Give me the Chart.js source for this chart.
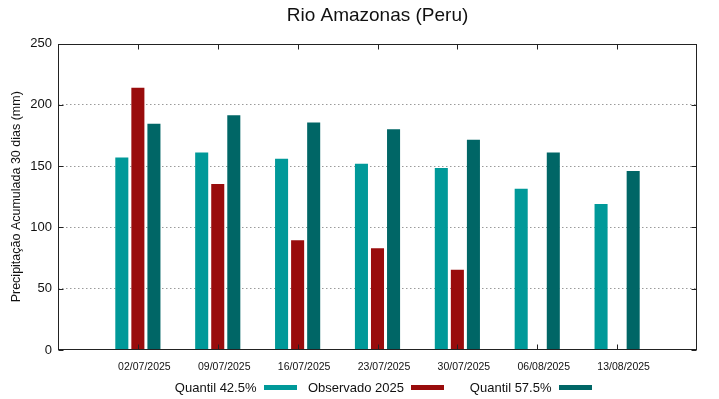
<!DOCTYPE html>
<html>
<head>
<meta charset="utf-8">
<script src="https://cdn.jsdelivr.net/npm/chart.js@4.4.1/dist/chart.umd.min.js"></script>
<style>
  html, body { margin: 0; padding: 0; background: #fff; }
  #wrap { position: relative; width: 719px; height: 399px; }
  #legend { position: absolute; left: 149px; top: 378px; height: 18px; display: flex;
            font-family: "Liberation Sans", Arial, sans-serif; font-size: 13px; color: #111; }
  .item { width: 147.5px; display: flex; justify-content: flex-end; align-items: center; }
  .sw { width: 33px; height: 5px; margin-left: 7px; }
</style>
</head>
<body>
<div id="wrap">
  <canvas id="c" width="719" height="399"></canvas>
  <div id="legend"></div>
</div>
<script>
const categories = ['02/07/2025', '09/07/2025', '16/07/2025', '23/07/2025', '30/07/2025', '06/08/2025', '13/08/2025'];
const quantil425 = [157, 161, 156, 152, 148.5, 131.5, 119];
const observado2025 = [214, 135.5, 89.5, 83, 65.5, null, null];
const quantil575 = [184.5, 191.5, 185.5, 180, 171.5, 161, 146];
const yTicks = [0, 50, 100, 150, 200, 250];

const pad = arr => [null, ...arr, null];
const labels = ['', ...categories, ''];

const frameTicks = {
  id: 'frameTicks',
  afterDatasetsDraw(chart) {
    const ctx = chart.ctx;
    const { left, right, top, bottom } = chart.chartArea;
    const L = Math.round(left) + 0.5, R = Math.round(right) - 0.5;
    const T = Math.round(top) + 0.5, B = Math.round(bottom) - 0.5;
    ctx.save();
    ctx.setLineDash([]);
    ctx.strokeStyle = '#222';
    ctx.lineWidth = 1;
    ctx.beginPath();
    chart.scales.y.ticks.forEach(t => {
      const py = Math.round(chart.scales.y.getPixelForValue(t.value)) + 0.5;
      ctx.moveTo(L, py); ctx.lineTo(L + 5, py);
      ctx.moveTo(R, py); ctx.lineTo(R - 5, py);
    });
    categories.forEach((c, i) => {
      const px = Math.round(chart.scales.x.getPixelForValue(i + 1)) + 0.5;
      ctx.moveTo(px, B); ctx.lineTo(px, B - 5);
      ctx.moveTo(px, T); ctx.lineTo(px, T + 5);
    });
    ctx.stroke();
    ctx.strokeRect(L, T, R - L, B - T);
    ctx.restore();
  }
};

const chart = new Chart(document.getElementById('c'), {
  type: 'bar',
  data: {
    labels: labels,
    datasets: [
      { label: 'Quantil 42.5%', data: pad(quantil425), backgroundColor: '#009999' },
      { label: 'Observado 2025', data: pad(observado2025), backgroundColor: '#990c0c' },
      { label: 'Quantil 57.5%', data: pad(quantil575), backgroundColor: '#006666' }
    ]
  },
  options: {
    responsive: false,
    animation: false,
    devicePixelRatio: 1,
    categoryPercentage: 0.603,
    barPercentage: 0.8125,
    layout: { padding: { left: 5, right: 22, top: 0, bottom: 0 } },
    plugins: {
      legend: { display: false },
      tooltip: { enabled: false },
      title: {
        display: true,
        fullSize: false,
        text: 'Rio Amazonas (Peru)',
        color: '#111',
        font: { family: 'Liberation Sans', size: 19, weight: 'normal', lineHeight: 1.2 },
        padding: { top: 4, bottom: 16.7 }
      }
    },
    scales: {
      x: {
        type: 'category',
        offset: false,
        grid: { display: false, drawTicks: false },
        border: { display: false },
        ticks: {
          autoSkip: false, maxRotation: 0, minRotation: 0, padding: 11, labelOffset: 6.5,
          color: '#111', font: { family: 'Liberation Sans', size: 10.5 }
        },
        afterFit: s => { s.height = 49; }
      },
      y: {
        min: 0, max: 250,
        afterBuildTicks: s => { s.ticks = yTicks.map(v => ({ value: v })); },
        grid: {
          color: c => (c.tick && (c.tick.value === 0 || c.tick.value === 250)) ? 'rgba(0,0,0,0)' : '#9a9a9a',
          lineWidth: 1, drawTicks: false
        },
        border: { display: false, dash: [1.5, 2.5] },
        ticks: { padding: 6, color: '#111', font: { family: 'Liberation Sans', size: 13 } },
        title: {
          display: true,
          text: 'Precipitação Acumulada 30 dias (mm)',
          color: '#111',
          font: { family: 'Liberation Sans', size: 12.5 },
          padding: { top: 4, bottom: 0 }
        },
        afterFit: s => { s.width = 53; }
      }
    }
  },
  plugins: [frameTicks]
});

const leg = document.getElementById('legend');
chart.data.datasets.forEach(ds => {
  const item = document.createElement('div');
  item.className = 'item';
  const t = document.createElement('span');
  t.textContent = ds.label;
  const sw = document.createElement('span');
  sw.className = 'sw';
  sw.style.background = ds.backgroundColor;
  item.appendChild(t); item.appendChild(sw);
  leg.appendChild(item);
});
</script>
</body>
</html>
